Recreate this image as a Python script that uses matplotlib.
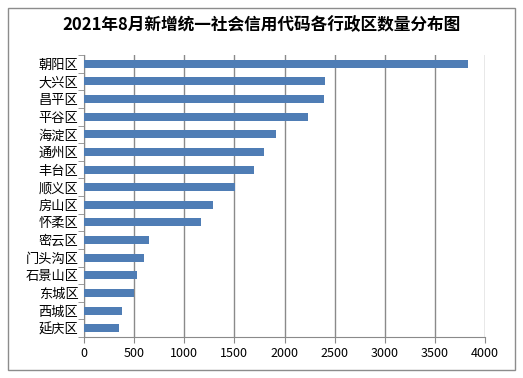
import matplotlib.pyplot as plt
from matplotlib.patches import Rectangle

plt.rcParams['font.family'] = ['Noto Sans CJK SC', 'DejaVu Sans']

districts = ['朝阳区', '大兴区', '昌平区', '平谷区', '海淀区', '通州区', '丰台区', '顺义区',
             '房山区', '怀柔区', '密云区', '门头沟区', '石景山区', '东城区', '西城区', '延庆区']
counts = [3830, 2404, 2395, 2230, 1911, 1796, 1696, 1506,
          1287, 1170, 652, 596, 526, 502, 379, 349]
xticks = [0, 500, 1000, 1500, 2000, 2500, 3000, 3500, 4000]

fig = plt.figure(figsize=(5.23, 3.78), dpi=100)
ax = fig.add_axes([84 / 523, 1 - 337 / 378, (485 - 84) / 523, (337 - 55) / 378])

# outer frame like the Excel chart area
fig.patches.append(Rectangle((8 / 523, 1 - 370 / 378), 507 / 523, 362 / 378,
                             transform=fig.transFigure, fill=False,
                             edgecolor='#8c8c8c', linewidth=1))

ypos = list(range(len(districts)))
ax.barh(ypos, counts, height=0.45, color='#4f7db5', zorder=3)
ax.set_ylim(len(districts) - 0.5, -0.5)
ax.set_yticks(ypos)
ax.set_yticklabels(districts, fontsize=9.5)
ax.set_xlim(0, 4000)
ax.set_xticks(xticks)
ax.set_xticklabels([str(t) for t in xticks], fontsize=9)
ax.xaxis.grid(True, color='#8a8a8a', linewidth=1, zorder=0)

for side in ['top', 'right']:
    ax.spines[side].set_visible(False)
ax.spines['left'].set_color('#8a8a8a')
ax.spines['bottom'].set_color('#8a8a8a')
ax.tick_params(axis='y', length=3, color='#8a8a8a', pad=4)
ax.tick_params(axis='x', length=4, color='#8a8a8a', pad=3)

# y ticks between categories like Excel
ax.set_yticks([i + 0.5 for i in range(-1, len(districts))], minor=True)
ax.tick_params(axis='y', which='major', length=0)
ax.tick_params(axis='y', which='minor', length=4, color='#8a8a8a')

fig.text(0.5, 1 - 25 / 378, '2021年8月新增统一社会信用代码各行政区数量分布图',
         ha='center', va='center', fontsize=12, fontweight='bold')

fig.savefig('out.png', dpi=100)
